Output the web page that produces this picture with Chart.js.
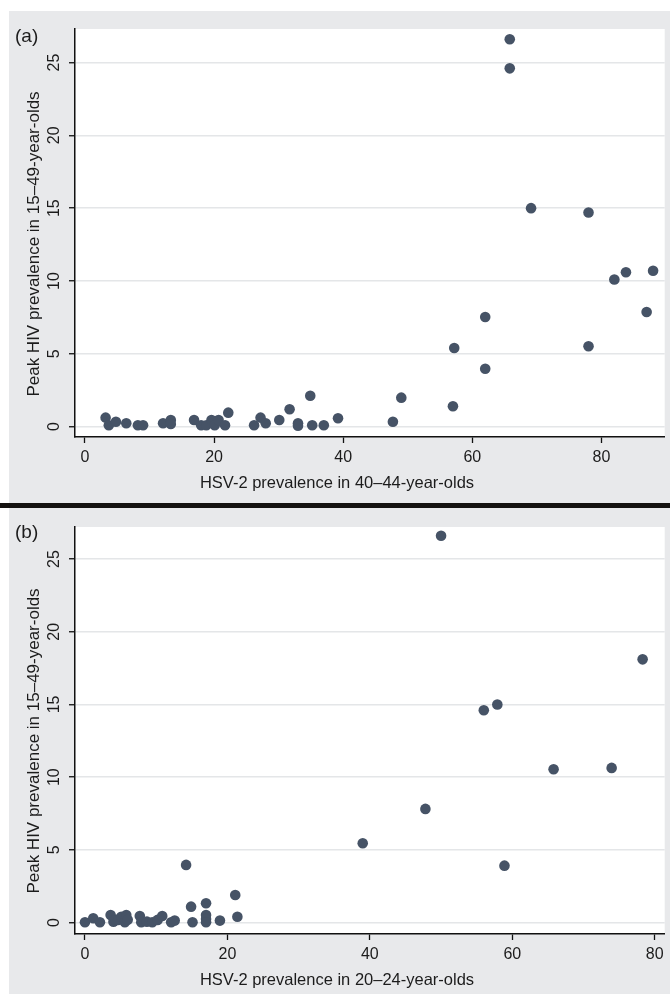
<!DOCTYPE html>
<html><head><meta charset="utf-8">
<script src="https://cdn.jsdelivr.net/npm/chart.js@4.4.1/dist/chart.umd.min.js"></script>
<style>
html,body{margin:0;padding:0;background:#fff;width:670px;height:994px;overflow:hidden;}
.panel{position:absolute;left:9px;width:661px;background:#e8e9eb;}
#pa{top:11px;height:492px;}
#pb{top:508px;height:486px;}
#sep{position:absolute;left:0;top:503px;width:670px;height:5px;background:#141210;}
canvas{display:block;}
</style></head>
<body>
<div id="pa" class="panel"><canvas id="ca" width="661" height="492"></canvas></div>
<div id="sep"></div>
<div id="pb" class="panel"><canvas id="cb" width="661" height="486"></canvas></div>
<script>
// Panel (a): HSV-2 prevalence in 40–44-year-olds vs peak HIV prevalence
const hsvA = [3.2,3.7,4.8,6.4,8.2,9.0,12.1,13.3,13.3,16.9,18.0,18.8,19.6,20.1,20.7,21.7,22.2,26.2,27.2,28.0,30.1,31.7,33.0,33.0,34.9,35.2,37.0,39.2,47.7,49.0,57.0,57.2,62.0,62.0,65.8,65.8,69.1,78.0,78.0,82.0,83.8,87.0,88.0];
const hivA = [0.62,0.1,0.34,0.23,0.1,0.1,0.23,0.46,0.18,0.46,0.1,0.1,0.46,0.1,0.46,0.1,0.96,0.1,0.62,0.23,0.46,1.19,0.23,0.07,2.12,0.1,0.1,0.58,0.34,1.99,1.40,5.4,3.98,7.53,26.6,24.6,15.0,14.7,5.52,10.1,10.6,7.87,10.7];
// Panel (b): HSV-2 prevalence in 20–24-year-olds vs peak HIV prevalence
const hsvB = [0,1.16,2.1,3.6,4.0,4.3,4.65,5.1,5.6,5.8,6.0,7.7,7.9,8.7,9.45,10.2,10.85,12.1,12.6,14.2,14.9,15.1,17.0,17.0,17.0,17.0,18.95,21.1,21.4,39.0,47.8,50.0,56.0,57.9,58.9,65.8,73.95,78.3];
const hivB = [0.03,0.3,0.03,0.53,0.07,0.2,0.19,0.41,0.03,0.53,0.2,0.46,0.03,0.07,0.03,0.19,0.46,0.03,0.14,3.97,1.1,0.03,1.33,0.53,0.25,0.03,0.14,1.9,0.41,5.46,7.82,26.6,14.6,15.0,3.92,10.55,10.64,18.1];
const xTicks = [0,20,40,60,80];
const yTicks = [0,5,10,15,20,25];
const yTitle = "Peak HIV prevalence in 15–49-year-olds";
const xTitleA = "HSV-2 prevalence in 40–44-year-olds";
const xTitleB = "HSV-2 prevalence in 20–24-year-olds";

const FONT = '"Liberation Sans", Arial, sans-serif';
const TXT = '#1c1c1c';
const PT = '#465366';

function makeChart(id, xs, ys, cfg) {
  const bg = {
    id: 'bg',
    beforeDraw(chart) {
      const a = chart.chartArea, c = chart.ctx;
      c.save(); c.fillStyle = '#ffffff';
      c.fillRect(a.left, a.top, a.right - a.left, a.bottom - a.top);
      c.restore();
    },
    afterDraw(chart) {
      const c = chart.ctx, ys_ = chart.scales.y;
      c.save();
      c.fillStyle = TXT;
      // panel label
      c.font = '19px ' + FONT;
      c.textAlign = 'left'; c.textBaseline = 'alphabetic';
      c.fillText(cfg.label, 6, cfg.labelY);
      // y tick labels (rotated)
      c.font = '16px ' + FONT;
      yTicks.forEach(v => {
        const py = ys_.getPixelForValue(v);
        c.save();
        c.translate(46, py);
        c.rotate(-Math.PI / 2);
        c.textAlign = 'center'; c.textBaseline = 'middle';
        c.fillText(String(v), 0, 0);
        c.restore();
      });
      // y title
      c.save();
      c.font = '17px ' + FONT;
      c.translate(25, cfg.yTitleY);
      c.rotate(-Math.PI / 2);
      c.textAlign = 'center'; c.textBaseline = 'middle';
      c.fillText(yTitle, 0, 0);
      c.restore();
      // x title
      c.font = '16.5px ' + FONT;
      c.textAlign = 'center'; c.textBaseline = 'middle';
      c.fillText(cfg.xTitle, 328, chart.chartArea.bottom + 46);
      c.restore();
    }
  };
  return new Chart(document.getElementById(id), {
    type: 'scatter',
    data: { datasets: [{
      data: xs.map((x, i) => ({ x: x, y: ys[i] })),
      backgroundColor: PT, borderColor: PT, borderWidth: 0,
      pointRadius: 5.3, pointHoverRadius: 5.3
    }]},
    options: {
      responsive: false, animation: false, devicePixelRatio: 1,
      layout: { padding: { top: cfg.padTop, right: 2, left: 0, bottom: 0 } },
      plugins: { legend: { display: false }, tooltip: { enabled: false } },
      scales: {
        x: {
          type: 'linear', min: cfg.xMin, max: cfg.xMax,
          afterBuildTicks: a => { a.ticks = xTicks.map(v => ({ value: v })); },
          afterFit: a => { a.height = cfg.xAxisH; },
          grid: { drawOnChartArea: false, drawTicks: true, tickLength: 6, tickColor: '#111', tickWidth: 1.3 },
          border: { color: '#111', width: 1.5 },
          ticks: { color: TXT, font: { family: FONT, size: 16 }, padding: 5, maxRotation: 0 }
        },
        y: {
          type: 'linear', min: cfg.yMin, max: cfg.yMax,
          afterBuildTicks: a => { a.ticks = yTicks.map(v => ({ value: v })); },
          afterFit: a => { a.width = 66; },
          grid: { color: '#e4e6e8', lineWidth: 1.5, drawTicks: true, tickLength: 6, tickColor: '#111', tickWidth: 1.3 },
          border: { color: '#111', width: 1.5 },
          ticks: { display: false }
        }
      }
    },
    plugins: [bg]
  });
}

makeChart('ca', hsvA, hivA, {
  label: '(a)', labelY: 31, xTitle: xTitleA, yTitleY: 233,
  padTop: 18, xAxisH: 66,
  xMin: -1.54, xMax: 89.8, yMin: -0.71, yMax: 27.3
});
makeChart('cb', hsvB, hivB, {
  label: '(b)', labelY: 30, xTitle: xTitleB, yTitleY: 233,
  padTop: 19, xAxisH: 60,
  xMin: -1.4, xMax: 81.4, yMin: -0.78, yMax: 27.2
});
</script>
</body></html>
